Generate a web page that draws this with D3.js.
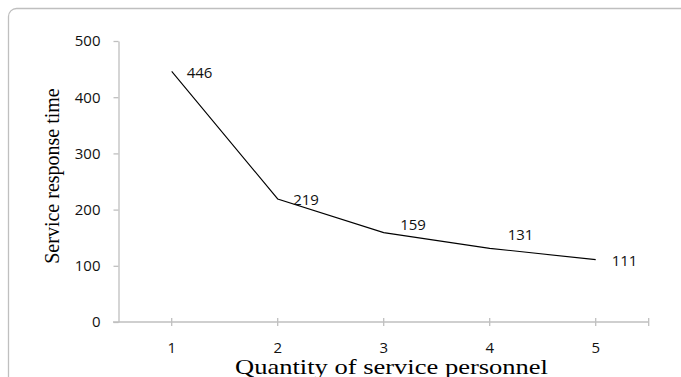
<!DOCTYPE html>
<html>
<head>
<meta charset="utf-8">
<script src="https://cdn.jsdelivr.net/npm/d3@7"></script>
<style>
html,body{margin:0;padding:0;background:#fff;}
svg{display:block;}
</style>
</head>
<body>
<svg id="chart" width="681" height="377"></svg>
<script>
// ---- data ----
const categories = [1, 2, 3, 4, 5];
const responseTime = [446, 219, 159, 131, 111];
const yTicks = [0, 100, 200, 300, 400, 500];
const xTitle = "Quantity of service personnel";
const yTitle = "Service response time";

// ---- drawing ----
const svg = d3.select("#chart");
const axisColor = "#bfbfbf";
const numFont = "'Open Sans', Lato, sans-serif";
const serif = "'Liberation Serif', 'Times New Roman', serif";

// outer frame
svg.append("rect")
  .attr("x", 8.5).attr("y", 8.5)
  .attr("width", 700).attr("height", 420)
  .attr("rx", 8).attr("ry", 8)
  .attr("fill", "none").attr("stroke", axisColor).attr("stroke-width", 1.3);

const x = d3.scaleBand().domain(categories).range([118.7, 648.7]).padding(0);
const y = d3.scaleLinear().domain([0, 500]).range([322, 41]);
const cx = d => x(d) + x.bandwidth() / 2;

// y axis
const yAxis = svg.append("g").attr("transform", "translate(118.5,0)")
  .call(d3.axisLeft(y).tickValues(yTicks).tickSize(5).tickSizeOuter(0).tickPadding(13));
yAxis.select(".domain").attr("stroke", axisColor).attr("stroke-width", 1.3);
yAxis.selectAll(".tick line").attr("stroke", axisColor).attr("stroke-width", 1.3);
yAxis.selectAll(".tick text")
  .attr("font-family", numFont).attr("font-size", 15).attr("fill", "#111");

// x axis line
svg.append("line")
  .attr("x1", 113).attr("x2", x.range()[1])
  .attr("y1", y(0)).attr("y2", y(0))
  .attr("stroke", axisColor).attr("stroke-width", 1.3);
// x ticks at category centers + right end (crossing)
const xTickPos = categories.map(cx).concat([x.range()[1]]);
svg.selectAll(".xtick").data(xTickPos).enter().append("line")
  .attr("class", "xtick")
  .attr("x1", d => d).attr("x2", d => d)
  .attr("y1", y(0) - 4).attr("y2", y(0) + 4)
  .attr("stroke", axisColor).attr("stroke-width", 1.3);
svg.selectAll(".xlab").data(categories).enter().append("text")
  .attr("x", d => cx(d)).attr("y", 348)
  .attr("dy", "0.35em")
  .attr("text-anchor", "middle")
  .attr("font-family", numFont).attr("font-size", 15).attr("fill", "#111")
  .text(d => d);

// line
const line = d3.line().x((d, i) => cx(categories[i])).y(d => y(d));
svg.append("path").datum(responseTime)
  .attr("d", line)
  .attr("fill", "none").attr("stroke", "#000").attr("stroke-width", 1.1);

// data labels (manually nudged like the original)
const nudge = [[15, 1.5], [15.5, 1], [16.5, -7.5], [18, -14], [16, 1.5]];
svg.selectAll(".dlab").data(responseTime).enter().append("text")
  .attr("x", (d, i) => cx(categories[i]) + nudge[i][0])
  .attr("y", (d, i) => y(d) + nudge[i][1])
  .attr("dy", "0.35em")
  .attr("font-family", numFont).attr("font-size", 15).attr("fill", "#111")
  .text(d => d);

// titles
svg.append("text")
  .attr("transform", "translate(59,176) rotate(-90)")
  .attr("text-anchor", "middle")
  .attr("font-family", serif).attr("font-size", 20).attr("fill", "#000")
  .text(yTitle);
svg.append("text")
  .attr("x", 235).attr("y", 374)
  .attr("textLength", 313).attr("lengthAdjust", "spacingAndGlyphs")
  .attr("font-family", serif).attr("font-size", 21).attr("fill", "#000")
  .text(xTitle);
</script>
</body>
</html>
